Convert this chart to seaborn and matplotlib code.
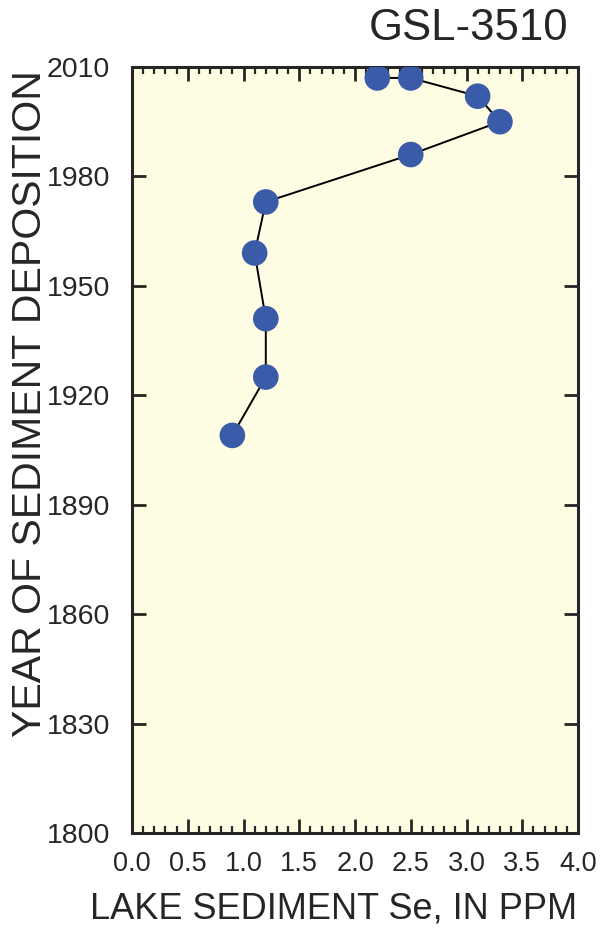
import matplotlib
matplotlib.use("Agg")
import matplotlib.pyplot as plt
from matplotlib.ticker import MultipleLocator, FormatStrFormatter
import seaborn as sns
import pandas as pd

se_ppm = [2.2, 2.5, 3.1, 3.3, 2.5, 1.2, 1.1, 1.2, 1.2, 0.9]
year = [2007, 2007, 2002, 1995, 1986, 1973, 1959, 1941, 1925, 1909]
title = "GSL-3510"
xlabel = "LAKE SEDIMENT Se, IN PPM"
ylabel = "YEAR OF SEDIMENT DEPOSITION"

df = pd.DataFrame({"se": se_ppm, "year": year})

sns.set_theme(style="ticks")
plt.rcParams['font.family'] = ['Liberation Sans', 'DejaVu Sans']

ink = "#262626"
fig = plt.figure(figsize=(6.04, 9.39), dpi=100)
ax = fig.add_axes([132/604, 1-833/939, (578-132)/604, (833-67)/939])
ax.set_facecolor("#FEFDE3")

sns.lineplot(data=df, x="se", y="year", sort=False, estimator=None,
             color="black", linewidth=1.4, ax=ax, zorder=2)
sns.scatterplot(data=df, x="se", y="year", s=340, color="#3A5BA8",
                edgecolor="none", ax=ax, zorder=3)

ax.set_xlim(0, 4)
ax.set_ylim(1800, 2010)
ax.xaxis.set_major_locator(MultipleLocator(0.5))
ax.xaxis.set_minor_locator(MultipleLocator(0.1))
ax.yaxis.set_major_locator(MultipleLocator(30))
ax.xaxis.set_major_formatter(FormatStrFormatter("%.1f"))

ax.tick_params(axis="both", which="major", direction="in", length=10, width=2,
               top=True, right=True, colors=ink)
ax.tick_params(axis="x", which="major", labelsize=19.5, pad=13)
ax.tick_params(axis="y", which="major", labelsize=20.5, pad=16)
ax.tick_params(axis="x", which="minor", direction="in", length=5, width=1.6,
               top=True, bottom=True, colors=ink)
ax.tick_params(axis="y", which="minor", left=False, right=False)
for s in ax.spines.values():
    s.set_linewidth(2.2)
    s.set_color(ink)

ax.set_xlabel("")
ax.set_ylabel("")
fig.text(334/604, 1-909/939, xlabel, ha="center", va="center", fontsize=26, color=ink)
fig.text(30/604, 1-404/939, ylabel, ha="center", va="center", rotation=90,
         fontsize=29.5, color=ink)
fig.text(568/604, 1-28/939, title, ha="right", va="center", fontsize=31.5, color=ink)

fig.savefig("out.png", dpi=100, facecolor="white")
